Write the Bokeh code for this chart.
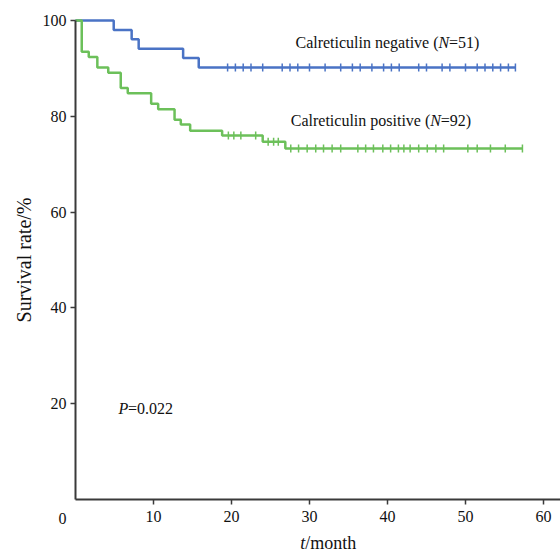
from bokeh.plotting import figure
from bokeh.models import Range1d, FixedTicker, Label
from bokeh.embed import file_html
from bokeh.resources import INLINE
import math

# Calreticulin negative (N=51)
neg_time = [0, 4.9, 7.2, 8.1, 13.8, 15.8, 56.4]
neg_surv = [100, 98.0, 96.1, 94.1, 92.2, 90.2, 90.2]
neg_cens_t = [19.5, 20.5, 21.5, 22.5, 24.0, 26.5, 27.5, 28.5, 30.0, 32.0, 34.0, 35.5, 36.5,
              38.0, 39.5, 40.5, 41.5, 44.0, 45.0, 47.0, 48.0, 50.0, 51.5, 52.5, 53.5, 54.5, 55.5, 56.4]
neg_cens_s = [90.2] * len(neg_cens_t)

# Calreticulin positive (N=92)
pos_time = [0, 0.8, 1.7, 2.8, 4.2, 5.8, 6.7, 9.7, 10.6, 12.7, 13.5, 14.7, 18.8, 24.0, 26.9, 57.3]
pos_surv = [100, 93.5, 92.4, 90.2, 89.1, 85.9, 84.8, 82.6, 81.5, 79.3, 78.3, 77.0, 76.0, 74.7, 73.3, 73.3]
pos_cens_t = [19.6, 20.3, 21.2, 23.1, 24.7, 25.4, 26.0,
              27.6, 28.6, 29.7, 30.8, 31.8, 32.9, 34.0, 36.2, 37.2, 38.2, 39.4, 40.4, 41.4,
              42.1, 42.9, 44.0, 45.1, 46.2, 47.2, 50.3, 51.5, 53.2, 55.1, 57.3]
pos_cens_s = [76.0] * 4 + [74.7] * 3 + [73.3] * 24

x_ticks = [10, 20, 30, 40, 50, 60]
y_ticks = [20, 40, 60, 80, 100]

BLUE = "#4a73c5"
GREEN = "#6cc05a"
AXIS = "#3a3a3a"
FONT = "Liberation Serif"

# frame fills the canvas; axes are drawn at the data origin
p = figure(width=560, height=554, output_backend="svg", toolbar_location=None,
           x_range=Range1d(-9.615, 62.18), y_range=Range1d(-11.48, 104.18),
           min_border=0, min_border_left=0, min_border_right=0,
           min_border_top=0, min_border_bottom=0)
p.outline_line_color = None
p.grid.visible = False
p.background_fill_color = "white"

for ax in (p.xaxis[0], p.yaxis[0]):
    ax.fixed_location = 0
    ax.axis_line_color = AXIS
    ax.axis_line_width = 2
    ax.major_tick_line_color = AXIS
    ax.major_tick_line_width = 1.5
    ax.major_tick_out = 5
    ax.major_tick_in = 0
    ax.minor_tick_line_color = None
    ax.major_label_text_font = FONT
    ax.major_label_text_font_size = "16px"
    ax.major_label_text_color = "#111111"

p.xaxis.bounds = (0, 62.18)
p.yaxis.bounds = (0, 100)
p.xaxis.ticker = FixedTicker(ticks=x_ticks)
p.yaxis.ticker = FixedTicker(ticks=y_ticks)
p.xaxis.major_label_standoff = 6
p.yaxis.major_label_standoff = 4

p.yaxis.axis_label = "Survival rate/%"
p.yaxis.axis_label_text_font = FONT
p.yaxis.axis_label_text_font_size = "20px"
p.yaxis.axis_label_text_font_style = "normal"
p.yaxis.axis_label_text_color = "#111111"
p.yaxis.axis_label_standoff = 5

p.step(neg_time, neg_surv, mode="after", line_color=BLUE, line_width=2.5)
p.step(pos_time, pos_surv, mode="after", line_color=GREEN, line_width=2.5)
p.scatter(neg_cens_t, neg_cens_s, marker="dash", angle=math.pi / 2, size=8,
          line_color=BLUE, line_width=1.5)
p.scatter(pos_cens_t, pos_cens_s, marker="dash", angle=math.pi / 2, size=8,
          line_color=GREEN, line_width=1.5)

def lab(x, y, text, style="normal", xo=0, yo=0, size="16px", align="left"):
    p.add_layout(Label(x=x, y=y, text=text, text_font=FONT, text_font_size=size,
                       text_font_style=style, text_baseline="middle", text_align=align,
                       x_offset=xo, y_offset=yo, text_color="#111111"))

# group labels (italic N)
lab(28.2, 95.4, "Calreticulin negative (")
lab(28.2, 95.4, "N", style="italic", xo=143)
lab(28.2, 95.4, "=51)", xo=153.5)
lab(27.6, 79.1, "Calreticulin positive (")
lab(27.6, 79.1, "N", style="italic", xo=139.5)
lab(27.6, 79.1, "=92)", xo=150)
# p value
lab(5.5, 19.0, "P", style="italic")
lab(5.5, 19.0, "=0.022", xo=9.5)
# corner zero
lab(0, 0, "0", xo=-13, yo=-19, align="center")
# x axis title
lab(28.8, 0, "t", style="italic", yo=-43, size="18px")
lab(28.8, 0, "/month", yo=-43, xo=5, size="18px")

open("out.html", "w").write(file_html(p, INLINE))
